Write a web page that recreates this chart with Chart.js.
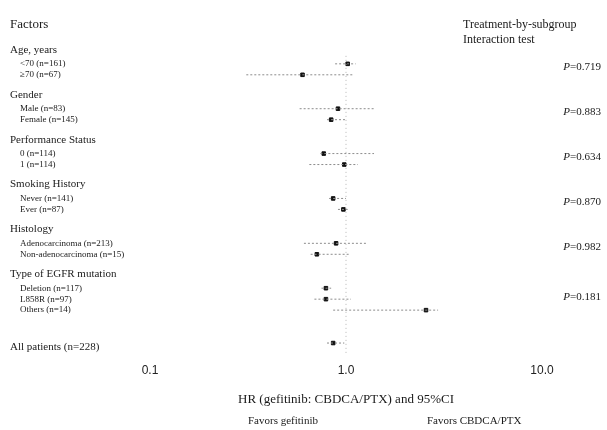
<!DOCTYPE html>
<html>
<head>
<meta charset="utf-8">
<script src="https://cdn.jsdelivr.net/npm/chart.js@4.4.1/dist/chart.umd.min.js"></script>
<style>
  html, body { margin: 0; padding: 0; background: #fff; }
  canvas { display: block; }
</style>
</head>
<body>
<canvas id="forest" width="607" height="430"></canvas>
<script>
const tickValues = [0.1, 1, 10];
const tickLabels = ['0.1', '1.0', '10.0'];

const groupTitles = ['Age, years', 'Gender', 'Performance Status', 'Smoking History', 'Histology', 'Type of EGFR mutation'];
const subgroupLabels = [
  '<70 (n=161)', '\u226570 (n=67)',
  'Male (n=83)', 'Female (n=145)',
  '0 (n=114)', '1 (n=114)',
  'Never (n=141)', 'Ever (n=87)',
  'Adenocarcinoma (n=213)', 'Non-adenocarcinoma (n=15)',
  'Deletion (n=117)', 'L858R (n=97)', 'Others (n=14)'
];
const subgroupGroup = [0, 0, 1, 1, 2, 2, 3, 3, 4, 4, 5, 5, 5];
const hrValues = [1.02, 0.60, 0.91, 0.84, 0.77, 0.98, 0.86, 0.97, 0.89, 0.71, 0.79, 0.79, 2.56];
const ciLower  = [0.88, 0.31, 0.58, 0.80, 0.74, 0.65, 0.82, 0.91, 0.61, 0.66, 0.75, 0.69, 0.86];
const ciUpper  = [1.12, 1.10, 1.39, 1.01, 1.39, 1.15, 1.00, 1.02, 1.27, 1.04, 0.84, 1.06, 2.95];
const interactionP = ['0.719', '0.883', '0.634', '0.870', '0.982', '0.181'];

const overallLabel = 'All patients (n=228)';
const overallHR = 0.86;
const overallLower = 0.80;
const overallUpper = 0.98;

// row layout (y values are in the y scale's units, top to bottom)
const headerY = [];
const rowY = [];
let cur = 49;
groupTitles.forEach((t, g) => {
  headerY.push(cur);
  cur += 14;
  subgroupGroup.forEach((gg, i) => {
    if (gg === g) { rowY[i] = cur; cur += 11; }
  });
  cur += 9;
});
const overallY = rowY[rowY.length - 1] + 33;

const allHR = hrValues.concat([overallHR]);
const allLo = ciLower.concat([overallLower]);
const allHi = ciUpper.concat([overallUpper]);
const allY = rowY.concat([overallY]);

const ciData = [];
allY.forEach((y, i) => {
  ciData.push({x: allLo[i], y: y}, {x: allHi[i], y: y}, {x: null, y: null});
});
const pointData = allY.map((y, i) => ({x: allHR[i], y: y}));

const serif = '"Liberation Serif", "DejaVu Serif", serif';
const textColor = '#1a1a1a';

const labelsPlugin = {
  id: 'forestLabels',
  afterDraw(chart) {
    const c = chart.ctx;
    const ys = chart.scales.y;
    c.save();
    c.fillStyle = textColor;
    c.textBaseline = 'middle';
    c.textAlign = 'left';

    c.font = '13px ' + serif;
    c.fillText('Factors', 10, ys.getPixelForValue(24));
    c.font = '12px ' + serif;
    c.fillText('Treatment-by-subgroup', 463, ys.getPixelForValue(24));
    c.fillText('Interaction test', 463, ys.getPixelForValue(39));

    c.font = '11px ' + serif;
    groupTitles.forEach((t, g) => c.fillText(t, 10, ys.getPixelForValue(headerY[g])));
    c.fillText(overallLabel, 10, ys.getPixelForValue(overallY + 4));

    c.font = '9px ' + serif;
    subgroupLabels.forEach((t, i) => c.fillText(t, 20, ys.getPixelForValue(rowY[i])));

    // interaction p-values, next to each group's rows
    c.textAlign = 'right';
    interactionP.forEach((p, g) => {
      const ys2 = rowY.filter((y, i) => subgroupGroup[i] === g);
      const mid = (ys2[0] + ys2[ys2.length - 1]) / 2 - 2;
      const py = ys.getPixelForValue(mid);
      c.font = '11px ' + serif;
      const rest = '=' + p;
      c.fillText(rest, 601, py);
      const w = c.measureText(rest).width;
      c.font = 'italic 11px ' + serif;
      c.fillText('P', 601 - w, py);
    });

    c.textAlign = 'left';
    c.font = '11px ' + serif;
    c.fillText('Favors gefitinib', 248, 421);
    c.fillText('Favors CBDCA/PTX', 427, 421);
    c.restore();
  }
};

const chart = new Chart(document.getElementById('forest'), {
  type: 'scatter',
  data: {
    datasets: [
      {
        label: 'Reference',
        data: [{x: 1, y: 55}, {x: 1, y: 355}],
        showLine: true,
        borderColor: '#b5b5b5',
        borderWidth: 1,
        borderDash: [1, 3],
        pointRadius: 0
      },
      {
        label: '95% CI',
        data: ciData,
        showLine: true,
        spanGaps: false,
        borderColor: '#8c8c8c',
        borderWidth: 1,
        borderDash: [2, 2],
        pointRadius: 0
      },
      {
        label: 'HR',
        data: pointData,
        pointStyle: 'rect',
        pointRadius: 2.5,
        backgroundColor: '#111',
        borderColor: '#111',
        borderWidth: 1
      }
    ]
  },
  options: {
    responsive: false,
    animation: false,
    layout: { padding: { left: 150, right: 65, top: 0, bottom: 19 } },
    plugins: {
      legend: { display: false },
      tooltip: { enabled: false }
    },
    scales: {
      x: {
        type: 'logarithmic',
        min: 0.1,
        max: 10,
        grid: { display: false, drawTicks: false, tickLength: 0 },
        border: { display: false },
        afterBuildTicks: (scale) => {
          scale.ticks = tickValues.map(v => ({value: v}));
        },
        ticks: {
          autoSkip: false,
          maxRotation: 0,
          padding: 7,
          color: '#222',
          font: { family: '"Liberation Sans", Arial, sans-serif', size: 12 },
          callback: (v) => tickLabels[tickValues.indexOf(v)]
        },
        title: {
          display: true,
          text: 'HR (gefitinib: CBDCA/PTX) and 95%CI',
          color: textColor,
          font: { family: serif, size: 13 },
          padding: { top: 7, bottom: 4 }
        }
      },
      y: {
        type: 'linear',
        min: 4,
        max: 356,
        reverse: true,
        display: false
      }
    }
  },
  plugins: [labelsPlugin]
});
</script>
</body>
</html>
